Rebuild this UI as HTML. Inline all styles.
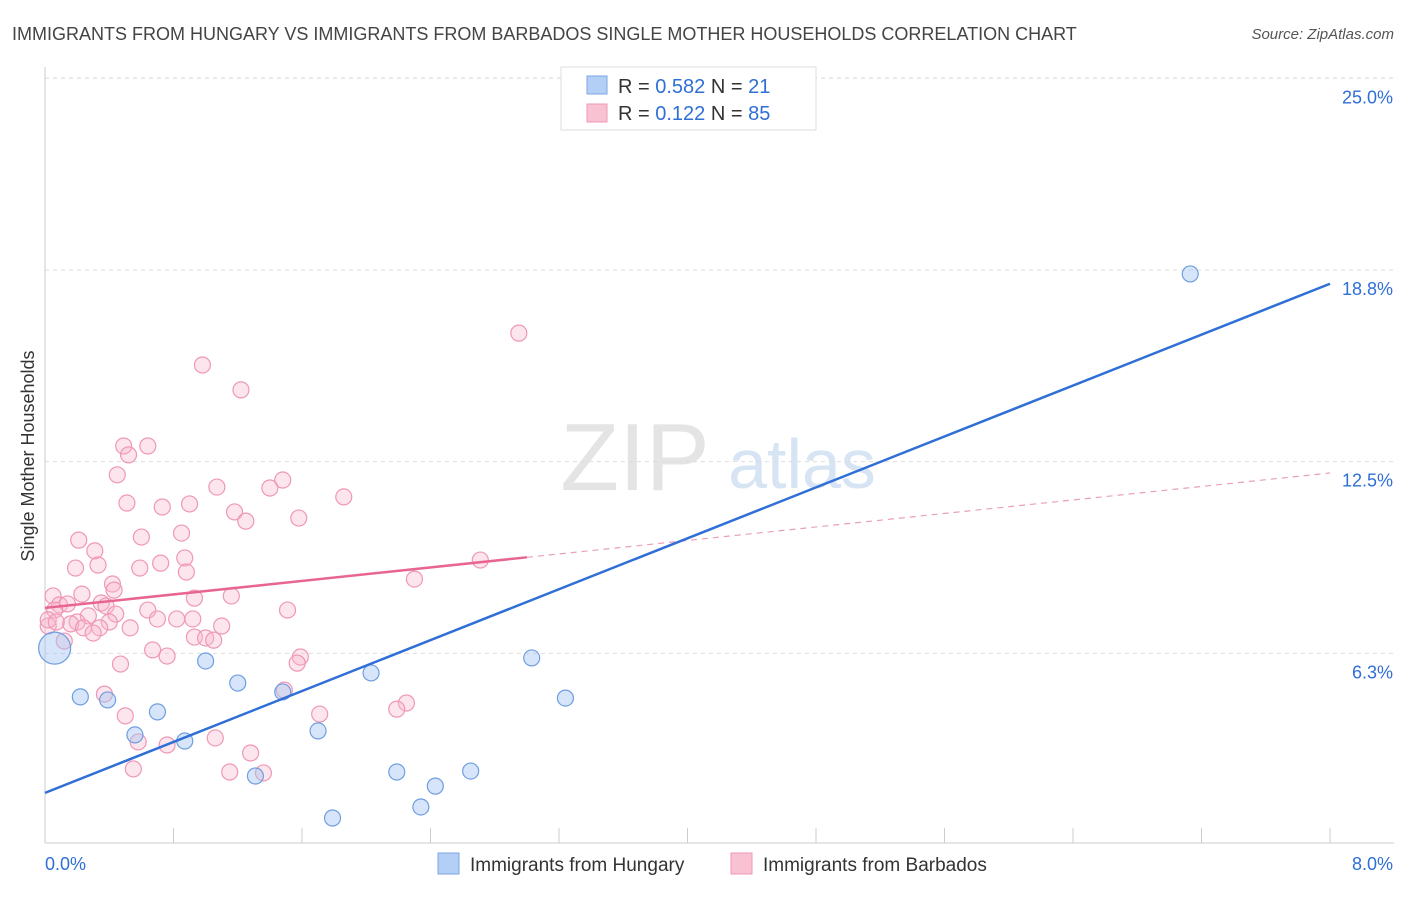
<!DOCTYPE html>
<html><head><meta charset="utf-8"><style>
body{margin:0;background:#fff;width:1406px;height:892px;overflow:hidden;font-family:"Liberation Sans",sans-serif}
svg text{font-family:"Liberation Sans",sans-serif}
</style></head><body>
<svg id="chart" width="1406" height="892" xmlns="http://www.w3.org/2000/svg">
<text x="12" y="40" font-size="18" fill="#444">IMMIGRANTS FROM HUNGARY VS IMMIGRANTS FROM BARBADOS SINGLE MOTHER HOUSEHOLDS CORRELATION CHART</text>
<text x="1394" y="39" font-size="15" fill="#555" font-style="italic" text-anchor="end">Source: ZipAtlas.com</text>
<text transform="translate(34,456) rotate(-90)" font-size="18" fill="#333" text-anchor="middle">Single Mother Households</text>
<g>
<text x="635" y="490" font-size="96" font-family="Liberation Serif" fill="#e4e4e4" text-anchor="middle">ZIP</text>
<text x="802" y="488" font-size="70" fill="#d6e4f3" text-anchor="middle">atlas</text>
</g>
<g id="grid"></g><g id="axes"></g><g id="marks"></g>
<g>
<rect x="561" y="67" width="255" height="63" fill="#fff" stroke="#ddd"/>
<rect x="587" y="76" width="20" height="18" fill="#b4cff5" stroke="#7ba6e3"/>
<rect x="587" y="104" width="20" height="18" fill="#f8c2d3" stroke="#ee98b6"/>
<text x="618" y="93" font-size="20" fill="#333">R = <tspan fill="#2f6fd6">0.582</tspan>   N = <tspan fill="#2f6fd6"> 21</tspan></text>
<text x="618" y="120" font-size="20" fill="#333">R = <tspan fill="#2f6fd6"> 0.122</tspan>   N = <tspan fill="#2f6fd6">85</tspan></text>
</g>
<g>
<rect x="438" y="853" width="21" height="21" fill="#b4cff5" stroke="#7ba6e3"/>
<text x="470" y="871" font-size="19" fill="#333">Immigrants from Hungary</text>
<rect x="731" y="853" width="21" height="21" fill="#f8c2d3" stroke="#ee98b6"/>
<text x="763" y="871" font-size="19" fill="#333">Immigrants from Barbados</text>
</g>
</svg>
<script>
const xTicks=[0,8];
const xTickLabels=["0.0%","8.0%"];
const yTicks=[6.25,12.5,18.75,25];
const yTickLabels=["6.3%","12.5%","18.8%","25.0%"];
const hungaryX=[7.13,0.06,0.22,0.39,0.70,0.56,0.87,1.00,1.20,1.48,1.31,1.70,1.79,2.03,2.19,2.34,2.43,2.65,3.03,3.24];
const hungaryY=[18.62,6.42,4.83,4.73,4.34,3.59,3.39,6.00,5.28,4.99,2.25,3.72,0.88,5.61,2.38,1.24,1.92,2.41,6.10,4.79];
const barbadosX=[2.95,0.98,1.22,0.49,0.64,0.52,0.45,1.48,1.07,1.40,1.86,0.51,0.90,0.73,1.18,1.25,1.58,0.85,0.60,0.21,0.31,0.87,0.72,0.33,0.19,0.59,0.88,2.71,2.30,0.42,0.43,0.23,0.05,0.93,1.16,0.35,0.09,0.64,0.14,0.06,0.38,1.51,0.44,0.27,0.70,0.82,0.92,0.20,0.40,0.16,0.02,0.34,0.53,0.24,0.30,1.10,0.93,1.00,1.05,0.12,0.67,0.76,1.59,1.57,0.47,1.49,0.37,2.25,2.19,1.71,0.50,0.58,0.76,1.06,1.28,0.55,1.15,1.36,0.02,0.07];
const barbadosY=[16.69,15.65,14.84,13.01,13.01,12.72,12.07,11.90,11.67,11.64,11.35,11.15,11.12,11.02,10.86,10.56,10.66,10.17,10.04,9.94,9.59,9.36,9.19,9.13,9.03,9.03,8.90,9.29,8.67,8.51,8.31,8.18,8.12,8.05,8.12,7.89,7.83,7.66,7.86,7.66,7.79,7.66,7.53,7.47,7.37,7.37,7.37,7.27,7.27,7.21,7.14,7.08,7.08,7.08,6.91,7.14,6.78,6.75,6.68,6.65,6.36,6.16,6.13,5.93,5.90,5.05,4.92,4.63,4.43,4.27,4.21,3.36,3.26,3.49,3.00,2.48,2.38,2.35,7.34,7.27];
const hungaryTrend=[1.7,18.3];
const barbadosTrend=[7.73,12.13];
const barbadosSolidEnd=3.0;
const X=v=>45+v*160.625, Y=v=>845-v*30.67;
const NS="http://www.w3.org/2000/svg";
function mk(tag,attrs,parent){const e=document.createElementNS(NS,tag);for(const k in attrs)e.setAttribute(k,attrs[k]);document.getElementById(parent).appendChild(e);return e;}
yTicks.forEach((t,i)=>{
const g=mk('line',{x1:45,x2:1394,y1:Y(t),y2:Y(t),stroke:'#ddd','stroke-dasharray':'4,4'},'grid');


const l=mk('text',{x:1393,y:Y(t)+25,'font-size':18,fill:'#2f6fd6','text-anchor':'end'},'axes');l.textContent=yTickLabels[i];


});
const gtop=mk('line',{x1:45,x2:1394,y1:78,y2:78,stroke:'#ddd','stroke-dasharray':'4,4'},'grid');


const ax=mk('line',{x1:45,x2:1394,y1:843,y2:843,stroke:'#ccc'},'axes');


const ay=mk('line',{x1:45,x2:45,y1:67,y2:843,stroke:'#ccc'},'axes');


for(let i=0;i<=10;i++){const t=mk('line',{x1:X(i*0.8),x2:X(i*0.8),y1:828,y2:843,stroke:'#ccc'},'axes');

}
xTicks.forEach((t,i)=>{const l=mk('text',{x:X(t)+(i==0?0:63),y:870,'font-size':18,fill:'#2f6fd6','text-anchor':i==0?'start':'end'},'axes');l.textContent=xTickLabels[i];

});
barbadosX.forEach((x,i)=>{const c=mk('circle',{cx:X(x),cy:Y(barbadosY[i]),r:8,fill:'rgba(248,180,202,0.35)',stroke:'#ee98b6','stroke-width':1.2},'marks');

});
hungaryX.forEach((x,i)=>{const c=mk('circle',{cx:X(x),cy:Y(hungaryY[i]),r:i==1?16:8,fill:'rgba(165,198,242,0.45)',stroke:'#6f9ee0','stroke-width':1.2},'marks');

});
const slope=(barbadosTrend[1]-barbadosTrend[0])/8;
const bs=mk('line',{x1:X(0),y1:Y(barbadosTrend[0]),x2:X(barbadosSolidEnd),y2:Y(barbadosTrend[0]+slope*barbadosSolidEnd),stroke:'#e8658f','stroke-width':2.5},'marks');


const bd=mk('line',{x1:X(barbadosSolidEnd),y1:Y(barbadosTrend[0]+slope*barbadosSolidEnd),x2:X(8),y2:Y(barbadosTrend[1]),stroke:'#e8a0b8','stroke-width':1.2,'stroke-dasharray':'6,5'},'marks');


const hl=mk('line',{x1:X(0),y1:Y(hungaryTrend[0]),x2:X(8),y2:Y(hungaryTrend[1]),stroke:'#2f6fd6','stroke-width':2.5},'marks');


</script>
</body></html>
